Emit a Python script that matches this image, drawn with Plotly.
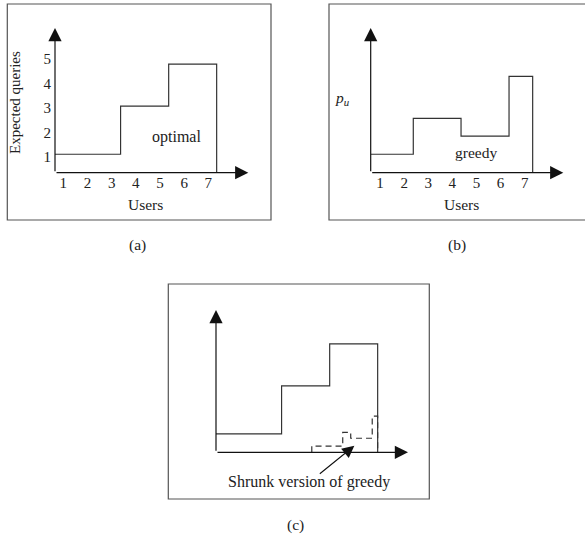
import plotly.graph_objects as go

# ---------------- data ----------------
users = [1, 2, 3, 4, 5, 6, 7]
expected_ticks = [1, 2, 3, 4, 5]
base = 0.344  # value at the axis origin

# optimal step curve: edges along users axis and level per step
opt_edges = [0.657, 3.37, 5.36, 7.345]
opt_levels = [1.10, 3.07, 4.79]

# greedy step curve
greedy_edges = [0.614, 2.38, 4.36, 6.35, 7.33]
greedy_levels = [1.10, 2.57, 1.84, 4.29]

# shrunk version of greedy (panel c)
shrunk_edges = [4.62, 5.90, 6.23, 7.12, 7.345]
shrunk_levels = [0.60, 1.16, 0.92, 1.83]

# ---------------- layout helpers ----------------
W, H = 585, 538
FONT = "Liberation Serif"
TXT = "#222222"
LINE = "#333333"


def dx(p0, p1):
    return [p0 / W, p1 / W]


def dy(top, bottom):
    return [1 - bottom / H, 1 - top / H]


def px(x):
    return x / W


def py(y):
    return 1 - y / H


fig = go.Figure()

# panel a
fig.add_trace(go.Scatter(x=opt_edges, y=opt_levels + [base], mode="lines",
                         line=dict(shape="hv", color=LINE, width=1.2),
                         xaxis="x", yaxis="y", showlegend=False, hoverinfo="skip"))
# panel b
fig.add_trace(go.Scatter(x=greedy_edges, y=greedy_levels + [base], mode="lines",
                         line=dict(shape="hv", color=LINE, width=1.2),
                         xaxis="x2", yaxis="y2", showlegend=False, hoverinfo="skip"))
# panel c
fig.add_trace(go.Scatter(x=shrunk_edges + [shrunk_edges[-1]],
                         y=[base] + shrunk_levels + [base], mode="lines",
                         line=dict(shape="vh", color=LINE, width=1.2, dash="6px,4px"),
                         xaxis="x3", yaxis="y3", showlegend=False, hoverinfo="skip"))
fig.add_trace(go.Scatter(x=opt_edges, y=opt_levels + [base], mode="lines",
                         line=dict(shape="hv", color=LINE, width=1.2),
                         xaxis="x3", yaxis="y3", showlegend=False, hoverinfo="skip"))

axis_common = dict(showgrid=False, zeroline=False, showline=False, ticks="",
                   tickfont=dict(family=FONT, size=15, color=TXT), fixedrange=True)

xa_range = [0.657, 8.654]
ya_range = [base, 6.27]
xb_range = [0.614, 8.6]
yb_range = [base, 6.27]
xc_range = [0.657, 8.6]
yc_range = [base, 6.18]

fig.update_layout(
    width=W, height=H,
    margin=dict(l=0, r=0, t=0, b=0),
    paper_bgcolor="white", plot_bgcolor="rgba(0,0,0,0)",
    xaxis=dict(domain=dx(55, 248.3), range=xa_range, anchor="y", ticklabelstandoff=-1,
               tickmode="array", tickvals=users, ticktext=[str(u) for u in users], **axis_common),
    yaxis=dict(domain=dy(28, 172.7), range=ya_range, anchor="x", ticklabelstandoff=3,
               tickmode="array", tickvals=expected_ticks,
               ticktext=[str(v) for v in expected_ticks], **axis_common),
    xaxis2=dict(domain=dx(370.7, 563.3), range=xb_range, anchor="y2", ticklabelstandoff=-1,
                tickmode="array", tickvals=users, ticktext=[str(u) for u in users], **axis_common),
    yaxis2=dict(domain=dy(28, 172.7), range=yb_range, anchor="x2",
                showticklabels=False, **axis_common),
    xaxis3=dict(domain=dx(216, 408), range=xc_range, anchor="y3",
                showticklabels=False, **axis_common),
    yaxis3=dict(domain=dy(310, 452.3), range=yc_range, anchor="x3",
                showticklabels=False, **axis_common),
)

# panel boxes
for (x0, y0, x1, y1) in [(7.3, 4, 271, 220), (329, 4, 600, 220), (168.3, 284, 429.3, 499)]:
    fig.add_shape(type="rect", xref="paper", yref="paper",
                  x0=px(x0), x1=px(x1), y0=py(y1), y1=py(y0),
                  line=dict(color="#555555", width=1.2), fillcolor="rgba(0,0,0,0)")

# axis arrows
ann = []
for xr, yr, xs, ys in [("x", "y", xa_range, ya_range), ("x2", "y2", xb_range, yb_range),
                       ("x3", "y3", xc_range, yc_range)]:
    ann.append(dict(xref=xr, yref=yr, axref=xr, ayref=yr, x=xs[1], y=ys[0], ax=xs[0], ay=ys[0],
                    text="", showarrow=True, arrowhead=2, arrowsize=2.2, arrowwidth=1.2,
                    arrowcolor="#111111"))
    ann.append(dict(xref=xr, yref=yr, axref=xr, ayref=yr, x=xs[0], y=ys[1], ax=xs[0], ay=ys[0],
                    text="", showarrow=True, arrowhead=2, arrowsize=2.2, arrowwidth=1.2,
                    arrowcolor="#111111"))

# pointer arrow in panel c
ann.append(dict(xref="x3", yref="y3", axref="x3", ayref="y3", x=6.38, y=0.614, ax=4.89, ay=-0.586,
                text="", showarrow=True, arrowhead=2, arrowsize=2.2, arrowwidth=1.1,
                arrowcolor="#111111"))


def label(text, x, y, size=15.5, angle=0):
    ann.append(dict(xref="paper", yref="paper", x=px(x), y=py(y), text=text, showarrow=False,
                    xanchor="center", yanchor="middle", textangle=angle,
                    font=dict(family=FONT, size=size, color=TXT)))


label("Expected queries", 15, 103, size=15, angle=-90)
label("Users", 145, 204)
label("optimal", 176, 137, size=16)
label("<i>p<sub>u</sub></i>", 342, 99)
label("greedy", 476, 152)
label("Users", 461, 204)
label("Shrunk version of greedy", 309, 482, size=16)
label("(a)", 137, 245)
label("(b)", 457, 245)
label("(c)", 295, 525)

fig.update_layout(annotations=ann)

fig.write_html("out.html", config={"displayModeBar": False},
               post_script="document.body.style.margin='0';")
